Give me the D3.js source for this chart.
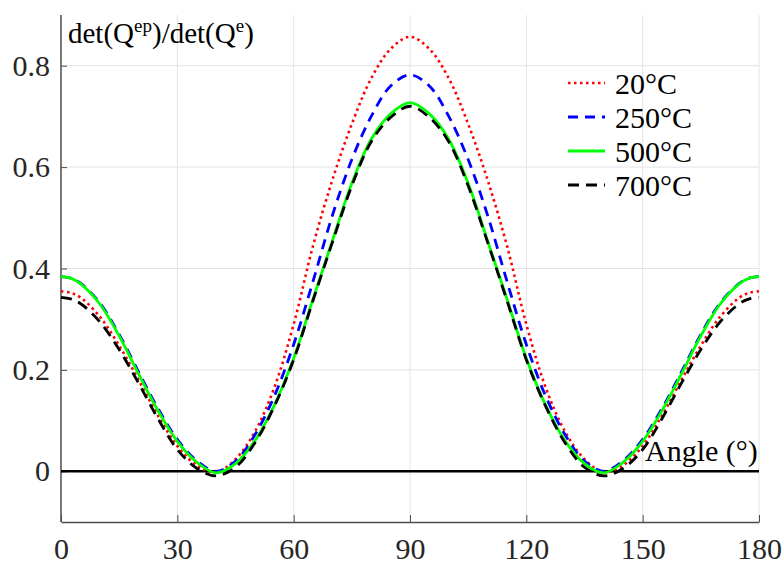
<!DOCTYPE html>
<html>
<head>
<meta charset="utf-8">
<style>
    body { margin: 0; background: white; }
    svg { display: block; }
</style>
</head>
<body>
<svg width="784" height="565" font-family="Liberation Serif"></svg>
<script src="https://d3js.org/d3.v7.min.js"></script>
<script>
    // angle samples (deg)
    const angles = [0, 2.5, 5, 10, 15, 20, 25, 30, 35, 40, 45, 50, 55, 60, 65, 70, 75, 80, 85, 90,
        95, 100, 105, 110, 115, 120, 125, 130, 135, 140, 145, 150, 155, 160, 165, 170, 175, 177.5, 180];

    // det(Qep)/det(Qe)
    const t20 = [0.355, 0.352, 0.343, 0.305, 0.248, 0.18, 0.11, 0.05, 0.012, -0.002,
        0.024, 0.078, 0.165, 0.29, 0.445, 0.575, 0.685, 0.775, 0.833, 0.857,
        0.833, 0.775, 0.685, 0.575, 0.445, 0.29, 0.165, 0.078, 0.024,
        -0.002, 0.012, 0.05, 0.11, 0.18, 0.248, 0.305, 0.343, 0.352, 0.355];
    const t250 = [0.384, 0.381, 0.371, 0.332, 0.27, 0.196, 0.124, 0.063, 0.021, 0.0,
        0.02, 0.072, 0.148, 0.25, 0.375, 0.505, 0.615, 0.7, 0.76, 0.782,
        0.76, 0.7, 0.615, 0.505, 0.375, 0.25, 0.148, 0.072, 0.02,
        0.0, 0.021, 0.063, 0.124, 0.196, 0.27, 0.332, 0.371, 0.381, 0.384];
    const t500 = [0.384, 0.381, 0.37, 0.33, 0.267, 0.192, 0.12, 0.059, 0.018, -0.003,
        0.015, 0.06, 0.13, 0.223, 0.34, 0.455, 0.568, 0.655, 0.705, 0.727,
        0.705, 0.655, 0.568, 0.455, 0.34, 0.223, 0.13, 0.06, 0.015,
        -0.003, 0.018, 0.059, 0.12, 0.192, 0.267, 0.33, 0.37, 0.381, 0.384];
    const t700 = [0.343, 0.34, 0.331, 0.295, 0.24, 0.174, 0.104, 0.043, 0.006, -0.009,
        0.008, 0.056, 0.128, 0.22, 0.337, 0.452, 0.563, 0.65, 0.698, 0.72,
        0.698, 0.65, 0.563, 0.452, 0.337, 0.22, 0.128, 0.056, 0.008,
        -0.009, 0.006, 0.043, 0.104, 0.174, 0.24, 0.295, 0.331, 0.34, 0.343];

    const seriesNames = ["20°C", "250°C", "500°C", "700°C"];
    const xTicks = [0, 30, 60, 90, 120, 150, 180];
    const yTicks = [0, 0.2, 0.4, 0.6, 0.8];

    const serif = "Liberation Serif";

    let svg = d3.select("svg");
    let x = d3.scaleLinear().domain([0, 180]).range([61, 759]);
    let y = d3.scaleLinear().domain([-0.1, 0.9]).range([522, 15]);

    // grid
    svg.append("g").selectAll("line").data(xTicks.slice(1))
        .join("line")
        .attr("x1", d => x(d)).attr("x2", d => x(d))
        .attr("y1", y(0.9)).attr("y2", y(-0.1))
        .attr("stroke", "#e3e3e3").attr("stroke-width", 1);
    svg.append("g").selectAll("line").data(yTicks)
        .join("line")
        .attr("x1", x(0)).attr("x2", x(180))
        .attr("y1", d => y(d)).attr("y2", d => y(d))
        .attr("stroke", "#e3e3e3").attr("stroke-width", 1);

    // axes
    let xAxis = svg.append("g")
        .attr("transform", "translate(0," + y(-0.1) + ")")
        .call(d3.axisBottom(x).tickValues(xTicks).tickSizeInner(-7).tickSizeOuter(0).tickPadding(14));
    let yAxis = svg.append("g")
        .attr("transform", "translate(" + x(0) + ",0)")
        .call(d3.axisLeft(y).tickValues(yTicks).tickSizeInner(-6).tickSizeOuter(0).tickPadding(11)
            .tickFormat(d => d === 0 ? "0" : d3.format(".1f")(d)));

    [xAxis, yAxis].forEach(a => {
        a.attr("font-family", serif).attr("font-size", 30);
        a.select(".domain").attr("stroke", "#4d4d4d").attr("stroke-width", 1.5);
        a.selectAll(".tick line").attr("stroke", "#4d4d4d").attr("stroke-width", 1);
        a.selectAll("text").attr("font-family", serif).attr("font-size", 30).attr("fill", "#262626");
    });
    yAxis.select(".domain").attr("d", "M0," + y(0.9) + "V" + y(-0.1));
    xAxis.selectAll("text").attr("dy", "0.78em");

    // zero line
    svg.append("line")
        .attr("x1", x(0)).attr("x2", x(180))
        .attr("y1", y(0)).attr("y2", y(0))
        .attr("stroke", "black").attr("stroke-width", 2.5);

    // curves
    let styles = [
        { data: t20, color: "#ff0000", dash: "2.5,3.5", width: 2.6 },
        { data: t250, color: "#0000ff", dash: "10,7", width: 2.8 },
        { data: t500, color: "#00ff00", dash: null, width: 2.8 },
        { data: t700, color: "#000000", dash: "11,7", width: 2.8 }
    ];

    let line = d3.line()
        .x((d, i) => x(angles[i]))
        .y(d => y(d))
        .curve(d3.curveCatmullRom.alpha(0.5));

    styles.forEach(s => {
        svg.append("path")
            .datum(s.data)
            .attr("d", line)
            .attr("fill", "none")
            .attr("stroke", s.color)
            .attr("stroke-width", s.width)
            .attr("stroke-dasharray", s.dash);
    });

    // legend
    let legend = svg.append("g").attr("transform", "translate(568,83)");
    seriesNames.forEach((name, i) => {
        let row = legend.append("g").attr("transform", "translate(0," + i * 34 + ")");
        row.append("line")
            .attr("x1", 0).attr("x2", 37).attr("y1", 0).attr("y2", 0)
            .attr("stroke", styles[i].color)
            .attr("stroke-width", styles[i].width)
            .attr("stroke-dasharray", styles[i].dash);
        row.append("text")
            .attr("x", 47).attr("y", 0).attr("dy", "0.35em")
            .attr("font-family", serif)
            .attr("font-size", 30)
            .text(name);
    });

    // labels
    let ylab = svg.append("text")
        .attr("x", 68).attr("y", 43)
        .attr("font-family", serif)
        .attr("font-size", 29);
    ylab.append("tspan").text("det(Q");
    ylab.append("tspan").attr("dy", -11).attr("font-size", 19).text("ep");
    ylab.append("tspan").attr("dy", 11).text(")/det(Q");
    ylab.append("tspan").attr("dy", -11).attr("font-size", 19).text("e");
    ylab.append("tspan").attr("dy", 11).text(")");

    svg.append("text")
        .attr("x", 645).attr("y", 461)
        .attr("font-family", serif)
        .attr("font-size", 30)
        .text("Angle (°)");
</script>
</body>
</html>
